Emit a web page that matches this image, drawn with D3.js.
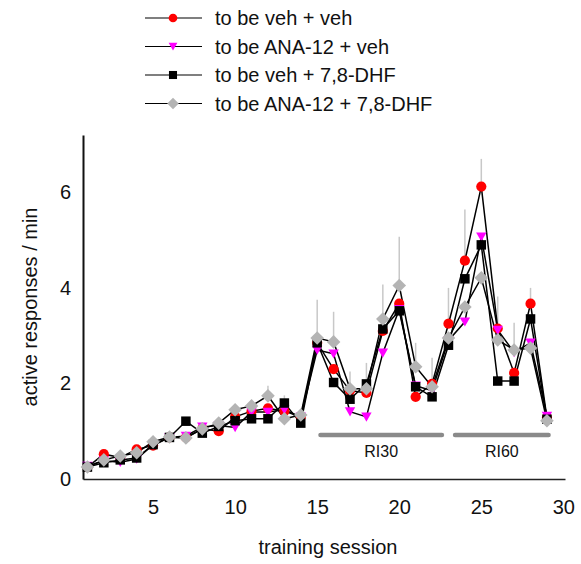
<!DOCTYPE html>
<html lang="en">
  <head>
    <meta charset="utf-8">
    <title>active responses</title>
    <script src="https://d3js.org/d3.v7.min.js"></script>
    <style>
      body { margin: 0; background: #fff; }
      text { font-family: "Liberation Sans", Arial, sans-serif; }
    </style>
  </head>
  <body>
    <div id="container"></div>
    <script>
      width = 581;
      height = 564;

      sessions = d3.range(1, 30);

      vehVeh   = [0.25, 0.52, 0.45, 0.62, 0.70, 0.87, 0.87, 1.05, 1.00, 1.30, 1.42, 1.48, 1.42, 1.30,
                  2.85, 2.30, 1.85, 1.80, 3.10, 3.67, 1.72, 1.99, 3.25, 4.57, 6.12, 3.15, 2.22, 3.67, 1.28];
      anaVeh   = [0.27, 0.38, 0.35, 0.42, 0.72, 0.87, 0.90, 1.09, 1.12, 1.08, 1.40, 1.40, 1.45, 1.30,
                  2.70, 2.62, 1.41, 1.30, 2.64, 3.55, 1.95, 1.85, 2.90, 3.29, 5.07, 3.12, 2.65, 2.85, 1.32];
      vehDhf   = [0.25, 0.34, 0.40, 0.44, 0.72, 0.87, 1.21, 0.96, 1.10, 1.22, 1.26, 1.26, 1.59, 1.17,
                  2.85, 2.02, 1.67, 1.99, 3.14, 3.52, 1.93, 1.72, 2.80, 4.19, 4.90, 2.05, 2.05, 3.35, 1.25];
      anaDhf   = [0.25, 0.40, 0.48, 0.55, 0.78, 0.88, 0.86, 1.05, 1.17, 1.45, 1.53, 1.74, 1.26, 1.34,
                  2.95, 2.87, 1.89, 1.89, 3.35, 4.05, 2.35, 1.93, 2.95, 3.60, 4.21, 2.91, 2.70, 2.74, 1.22];

      // upper end of the error bars (null = none visible)
      errTop   = [null, null, null, null, null, null, null, null, null, null, null, 1.95, 1.75, null,
                  3.75, 3.50, 2.25, 2.43, 4.07, 5.07, 2.85, 2.54, 4.00, 5.64, 6.70, 3.82, 3.27, 4.00, 1.40];

      seriesNames = ["to be veh + veh", "to be ANA-12 + veh", "to be veh + 7,8-DHF", "to be ANA-12 + 7,8-DHF"];
      seriesValues = [vehVeh, anaVeh, vehDhf, anaDhf];
      seriesColors = ["#ff0000", "#ff00ff", "#000000", "#b4b4b4"];
      seriesShapes = ["circle", "triangleDown", "square", "diamond"];

      scheduleLabels = ["RI30", "RI60"];
      scheduleFrom = [15.2, 23.4];
      scheduleTo = [22.6, 29.1];
      scheduleLevel = 0.92;

      xTicks = [5, 10, 15, 20, 25, 30];
      yTicks = [0, 2, 4, 6];

      x = d3.scaleLinear().domain([0.73, 30.1]).range([83, 565]);
      y = d3.scaleLinear().domain([0, 7.2]).range([479, 135]);

      const svg = d3.select("#container").append("svg")
          .attr("width", width)
          .attr("height", height);

      // marker shapes
      function marker(shape, small) {
        const k = small ? 0.85 : 1;
        if (shape === "triangleDown") return `M${-5.2*k},${-4.3*k}L${5.2*k},${-4.3*k}L0,${4.8*k}Z`;
        if (shape === "diamond") return `M0,${-6.8*k}L${6.8*k},0L0,${6.8*k}L${-6.8*k},0Z`;
        if (shape === "circle") return d3.symbol(d3.symbolCircle, 82 * k * k)();
        return d3.symbol(d3.symbolSquare, 90 * k * k)();
      }

      // axes
      svg.append("g")
          .attr("transform", `translate(0,${y(0)})`)
          .call(d3.axisBottom(x).tickValues(xTicks).tickSize(0).tickPadding(21))
          .call(g => g.select(".domain").attr("stroke", "#222").attr("stroke-width", 1.3))
          .call(g => g.selectAll("text").attr("font-size", 20).attr("fill", "#111")
              .attr("font-family", "Liberation Sans, Arial, sans-serif"));

      svg.append("g")
          .attr("transform", `translate(${x(0.73)},0)`)
          .call(d3.axisLeft(y).tickValues(yTicks).tickSize(0).tickPadding(12))
          .call(g => g.select(".domain").attr("stroke", "#111").attr("stroke-width", 2))
          .call(g => g.selectAll("text").attr("font-size", 20).attr("fill", "#111")
              .attr("font-family", "Liberation Sans, Arial, sans-serif"));

      svg.append("text")
          .attr("transform", `translate(30,${(y(0) + y(7.2)) / 2}) rotate(-90)`)
          .attr("text-anchor", "middle")
          .attr("dominant-baseline", "central")
          .attr("font-size", 20)
          .attr("fill", "#111")
          .text("active responses / min");

      svg.append("text")
          .attr("x", 328)
          .attr("y", 554)
          .attr("text-anchor", "middle")
          .attr("font-size", 20)
          .attr("fill", "#111")
          .text("training session");

      // schedule bars
      const sched = svg.append("g");
      scheduleLabels.forEach((lab, i) => {
        sched.append("line")
            .attr("x1", x(scheduleFrom[i])).attr("x2", x(scheduleTo[i]))
            .attr("y1", y(scheduleLevel)).attr("y2", y(scheduleLevel))
            .attr("stroke", "#8a8a8a")
            .attr("stroke-width", 4.5)
            .attr("stroke-linecap", "round");
        sched.append("text")
            .attr("x", (x(scheduleFrom[i]) + x(scheduleTo[i])) / 2)
            .attr("y", y(scheduleLevel) + 22)
            .attr("text-anchor", "middle")
            .attr("font-size", 16)
            .attr("fill", "#111")
            .text(lab);
      });

      // error bars (drawn up from the highest point)
      svg.append("g")
          .attr("stroke", "#c8c8c8")
          .attr("stroke-width", 1.5)
        .selectAll("line")
        .data(sessions.filter((s, i) => errTop[i] != null))
        .join("line")
          .attr("x1", s => x(s)).attr("x2", s => x(s))
          .attr("y1", s => y(errTop[s - 1]))
          .attr("y2", s => y(d3.max(seriesValues, v => v[s - 1])));

      // lines
      const line = d3.line().x((d, i) => x(sessions[i])).y(d => y(d));
      svg.append("g")
        .selectAll("path")
        .data(seriesValues)
        .join("path")
          .attr("fill", "none")
          .attr("stroke", "#000")
          .attr("stroke-width", 1.5)
          .attr("d", line);

      // markers
      seriesValues.forEach((vals, k) => {
        svg.append("g")
            .attr("fill", seriesColors[k])
          .selectAll("path")
          .data(vals)
          .join("path")
            .attr("transform", (d, i) => `translate(${x(sessions[i])},${y(d)})`)
            .attr("d", marker(seriesShapes[k]));
      });

      // legend
      const legend = svg.append("g");
      seriesNames.forEach((name, k) => {
        const ly = 18 + k * 28.5;
        legend.append("line")
            .attr("x1", 145).attr("x2", 202)
            .attr("y1", ly).attr("y2", ly)
            .attr("stroke", "#000").attr("stroke-width", 1.2);
        legend.append("path")
            .attr("transform", `translate(173,${ly})`)
            .attr("fill", seriesColors[k])
            .attr("d", marker(seriesShapes[k], true));
        legend.append("text")
            .attr("x", 215)
            .attr("y", ly)
            .attr("dominant-baseline", "central")
            .attr("font-size", 20)
            .attr("fill", "#111")
            .text(name);
      });
    </script>
  </body>
</html>
